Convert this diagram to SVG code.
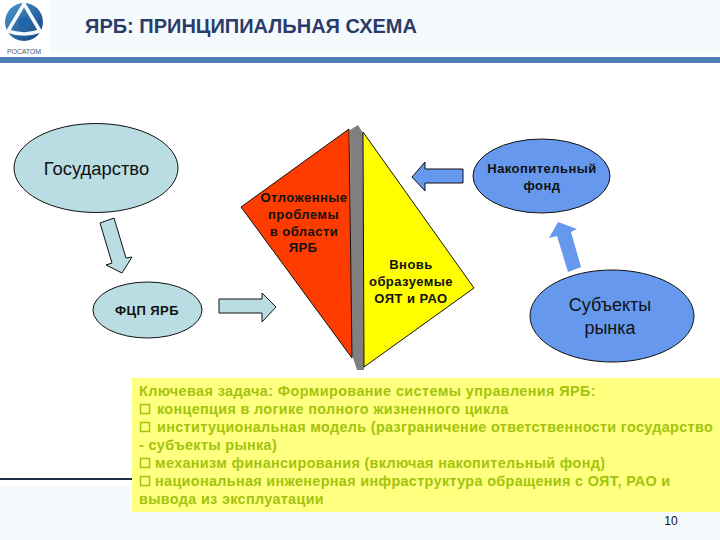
<svg xmlns="http://www.w3.org/2000/svg" width="720" height="540" viewBox="0 0 720 540">
<style>
text{font-family:"Liberation Sans",Arial,sans-serif;text-anchor:middle;fill:#111}
.b{font-weight:bold;font-size:13px;letter-spacing:.45px}
.s{stroke:#111;stroke-width:1}
.l{fill:#b9dde3}
.m{fill:#6699ee}
.k text{text-anchor:start;font-weight:bold;font-size:14.4px;fill:#a3c40c;letter-spacing:.34px}
.k text.w{letter-spacing:.4px}
.cb{fill:none;stroke:#a3c40c;stroke-width:1.5}
</style>
<defs><linearGradient id="lg" x1="0" y1="0" x2="1" y2="1"><stop offset="0" stop-color="#4a9ad0"/><stop offset="1" stop-color="#123f80"/></linearGradient></defs>
<rect width="720" height="540" fill="#fff"/>
<g id="header">
<rect x="50" width="670" height="53" fill="#f5fafc"/>
<rect y="57" width="720" height="6" fill="#4f81b5"/>
<circle cx="24" cy="22" r="19" fill="url(#lg)"/>
<path d="M24 4L40 31Q24 37 8 31Z" fill="none" stroke="#f2f8fb" stroke-width="3.500" stroke-linejoin="round"/>
<circle cx="24" cy="22" r="5.500" fill="#1f66a8"/>
<text x="24" y="54" style="font-size:7px;fill:#556">РОСАТОМ</text>
<text x="251" y="33" style="font-size:20px;font-weight:bold;fill:#2b3c6b">ЯРБ: ПРИНЦИПИАЛЬНАЯ СХЕМА</text>
</g>
<g id="footer">
<rect y="486" width="720" height="54" fill="#f5fafc"/>
<rect y="478" width="132" height="2" fill="#1c3048"/>
<text x="671" y="525" style="font-size:12px">10</text>
</g>
<g id="connectors">
<path class="s l" d="M100 223L114 218L126 258L132 257L122 273L106 265L112 263Z"/>
<path class="s l" d="M219 299H262V293L276 307L262 322V313H219Z"/>
<path class="s m" d="M463 169H425V162L412 177L425 191V183H463Z"/>
<path class="m" d="M568 272L581 267L571 232L577 229L558 222L549 238L557 236Z"/>
</g>
<g id="gosudarstvo"><ellipse class="s l" cx="96" cy="168" rx="82" ry="44.500"/><text x="96.500" y="175" style="font-size:18.400px">Государство</text></g>
<g id="fcp"><ellipse class="s l" cx="147.500" cy="310" rx="54.500" ry="28"/><text x="147" y="315" class="b">ФЦП ЯРБ</text></g>
<g id="nakop"><ellipse class="s m" cx="541.500" cy="176" rx="68.500" ry="37"/><text x="542" y="173" class="b">Накопительный</text><text x="542" y="190" class="b">фонд</text></g>
<g id="subjects"><ellipse class="s m" cx="612" cy="316" rx="82" ry="46"/><text x="610" y="311" style="font-size:18px">Субъекты</text><text x="610" y="334" style="font-size:18px">рынка</text></g>
<g id="divider"><path d="M350 130L358 125L363 133L364 370H357L351 352Z" fill="#808080"/></g>
<g id="red"><path class="s" d="M349 129L352 358L241 207Z" fill="#ff3c00"/><text x="304" y="202" class="b">Отложенные</text><text x="303.500" y="219" class="b">проблемы</text><text x="304" y="236" class="b">в области</text><text x="303" y="252" class="b">ЯРБ</text></g>
<g id="yellow"><path class="s" d="M363 132L474 288L364 367Z" fill="#ffff00"/><text x="411" y="269" class="b">Вновь</text><text x="411" y="286" class="b">образуемые</text><text x="411" y="303" class="b">ОЯТ и РАО</text></g>
<g id="keybox" class="k">
<rect x="132" y="378" width="588" height="134" fill="#ffff80"/>
<text class="w" x="139" y="396">Ключевая задача: Формирование системы управления ЯРБ:</text>
<rect class="cb" x="140.500" y="404.500" width="9" height="9"/><text x="157" y="414">концепция в логике полного жизненного цикла</text>
<rect class="cb" x="140.500" y="422.500" width="9" height="9"/><text x="157" y="432">институциональная модель (разграничение ответственности государство</text>
<text x="139" y="450">- субъекты рынка)</text>
<rect class="cb" x="140.500" y="458.500" width="9" height="9"/><text x="155" y="468">механизм финансирования (включая накопительный фонд)</text>
<rect class="cb" x="140.500" y="476.500" width="9" height="9"/><text x="155" y="486">национальная инженерная инфраструктура обращения с ОЯТ, РАО и</text>
<text x="139" y="504">вывода из эксплуатации</text>
</g>
</svg>
